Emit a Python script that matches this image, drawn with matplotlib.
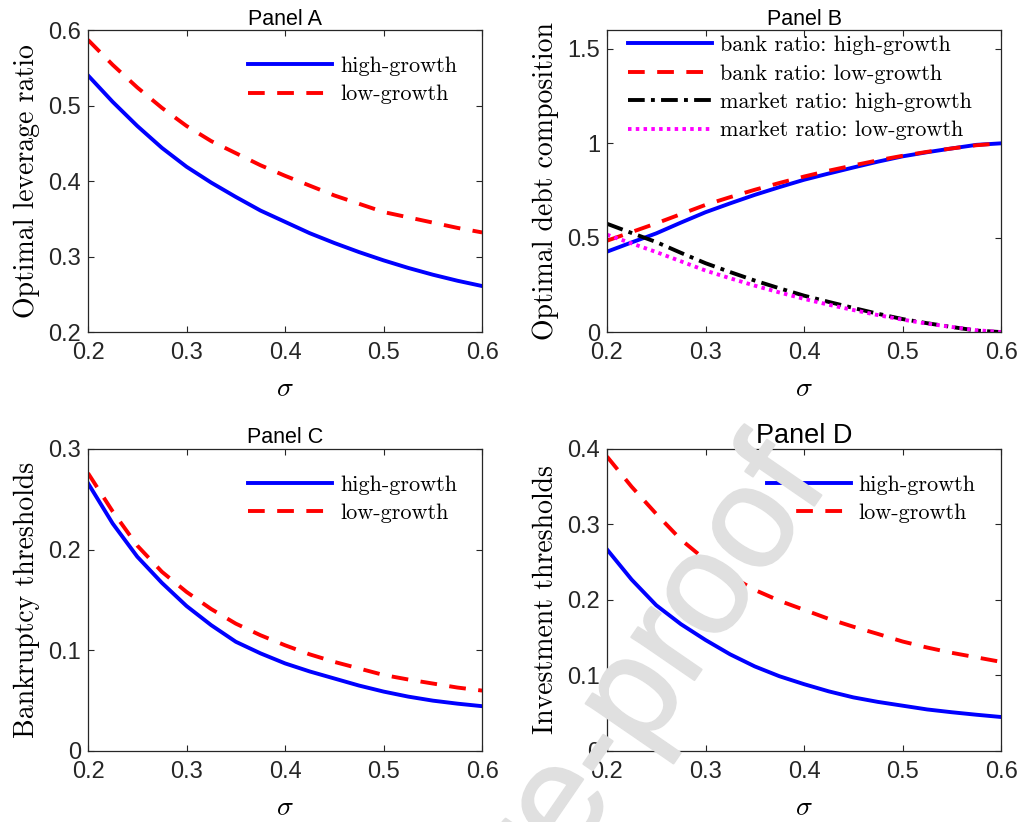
import matplotlib
matplotlib.use('Agg')
import matplotlib.pyplot as plt
import matplotlib.patheffects as pe

plt.rcParams['font.family'] = ['Liberation Sans', 'DejaVu Sans']
plt.rcParams['mathtext.fontset'] = 'cm'

sigma = [0.2, 0.225, 0.25, 0.275, 0.3, 0.325, 0.35, 0.375, 0.4,
         0.425, 0.45, 0.475, 0.5, 0.525, 0.55, 0.575, 0.6]

# Panel A - optimal leverage ratio
lev_high = [0.540, 0.505, 0.473, 0.444, 0.419, 0.398, 0.379, 0.361, 0.346,
            0.331, 0.318, 0.306, 0.295, 0.285, 0.276, 0.268, 0.261]
lev_low = [0.587, 0.554, 0.524, 0.497, 0.473, 0.453, 0.437, 0.421, 0.407,
           0.394, 0.381, 0.370, 0.359, 0.352, 0.345, 0.338, 0.332]

# Panel B - optimal debt composition
bank_high = [0.426, 0.475, 0.523, 0.580, 0.635, 0.682, 0.727, 0.768, 0.807,
             0.840, 0.872, 0.903, 0.931, 0.953, 0.973, 0.992, 1.000]
bank_low = [0.484, 0.530, 0.576, 0.625, 0.674, 0.715, 0.754, 0.790, 0.824,
            0.855, 0.883, 0.910, 0.934, 0.955, 0.973, 0.990, 1.000]
market_high = [0.574, 0.525, 0.477, 0.420, 0.365, 0.318, 0.273, 0.232, 0.193,
               0.160, 0.128, 0.097, 0.069, 0.047, 0.027, 0.008, 0.000]
market_low = [0.516, 0.470, 0.424, 0.375, 0.326, 0.285, 0.246, 0.210, 0.176,
              0.145, 0.117, 0.090, 0.066, 0.045, 0.027, 0.010, 0.000]

# Panel C - bankruptcy thresholds
bk_high = [0.266, 0.226, 0.193, 0.167, 0.144, 0.125, 0.1085, 0.097, 0.087,
           0.079, 0.072, 0.065, 0.059, 0.054, 0.050, 0.047, 0.0445]
bk_low = [0.276, 0.238, 0.204, 0.178, 0.158, 0.141, 0.1265, 0.115, 0.105,
          0.096, 0.0885, 0.082, 0.0755, 0.071, 0.067, 0.063, 0.060]

# Panel D - investment thresholds
inv_high = [0.267, 0.227, 0.193, 0.168, 0.147, 0.128, 0.112, 0.099, 0.0885,
            0.079, 0.071, 0.065, 0.060, 0.055, 0.0513, 0.048, 0.045]
inv_low = [0.390, 0.350, 0.314, 0.280, 0.253, 0.232, 0.2133, 0.199, 0.187,
           0.175, 0.1646, 0.155, 0.145, 0.137, 0.130, 0.124, 0.118]

grey = (0.15, 0.15, 0.15)
lw = 2.8
dash = (0, (4.3, 3.2))
cm_font = {'family': 'cmr10'}

fig = plt.figure(figsize=(10.21, 8.22), dpi=100)
ax_a = fig.add_axes([0.0862, 0.596, 0.386, 0.3674])
ax_b = fig.add_axes([0.5945, 0.596, 0.386, 0.3674])
ax_c = fig.add_axes([0.0862, 0.0864, 0.386, 0.3674])
ax_d = fig.add_axes([0.5945, 0.0864, 0.386, 0.3674])


def style(ax, ylim, yticks, ylabel, title, tsize=15.5):
    ax.set_xlim(0.2, 0.6)
    ax.set_ylim(*ylim)
    ax.set_xticks([0.2, 0.3, 0.4, 0.5, 0.6])
    ax.set_xticklabels(['0.2', '0.3', '0.4', '0.5', '0.6'])
    ax.set_yticks(yticks)
    ax.set_yticklabels([('%g' % t) for t in yticks])
    ax.tick_params(direction='in', length=4, width=0.8, colors=grey,
                   labelsize=17, top=True, right=True)
    ax.tick_params(axis='x', pad=7)
    ax.tick_params(axis='y', pad=5)
    for s in ax.spines.values():
        s.set_color(grey)
        s.set_linewidth(0.9)
    ax.set_xlabel(r'$\sigma$', fontsize=20, labelpad=9)
    ax.set_ylabel(ylabel, fontdict=cm_font, fontsize=20, labelpad=6)
    ax.set_title(title, fontsize=tsize, pad=4)


ax_a.plot(sigma, lev_high, color='blue', lw=lw, label='high-growth')
ax_a.plot(sigma, lev_low, color='red', lw=lw, ls=dash, label='low-growth')
style(ax_a, (0.2, 0.6), [0.2, 0.3, 0.4, 0.5, 0.6], 'Optimal leverage ratio', 'Panel A')

ax_b.plot(sigma, bank_high, color='blue', lw=lw, label='bank ratio: high-growth')
ax_b.plot(sigma, bank_low, color='red', lw=lw, ls=dash, label='bank ratio: low-growth')
ax_b.plot(sigma, market_high, color='black', lw=lw, ls=(0, (4.3, 1.6, 1.0, 1.6)),
          label='market ratio: high-growth')
ax_b.plot(sigma, market_low, color='magenta', lw=lw, ls=(0, (0.9, 1.1)),
          label='market ratio: low-growth')
style(ax_b, (0, 1.6), [0, 0.5, 1, 1.5], 'Optimal debt composition', 'Panel B')

ax_c.plot(sigma, bk_high, color='blue', lw=lw, label='high-growth')
ax_c.plot(sigma, bk_low, color='red', lw=lw, ls=dash, label='low-growth')
style(ax_c, (0, 0.3), [0, 0.1, 0.2, 0.3], 'Bankruptcy thresholds', 'Panel C')

ax_d.plot(sigma, inv_high, color='blue', lw=lw, label='high-growth')
ax_d.plot(sigma, inv_low, color='red', lw=lw, ls=dash, label='low-growth')
style(ax_d, (0, 0.4), [0, 0.1, 0.2, 0.3, 0.4], 'Investment thresholds', 'Panel D', tsize=19.5)

leg_kw = dict(frameon=False, loc='upper left', borderaxespad=0, borderpad=0,
              handlelength=3.8, handletextpad=0.35, labelspacing=0.4,
              prop={'family': 'cmr10', 'size': 16})
ax_a.legend(bbox_to_anchor=(0.406, 0.913), **leg_kw)
ax_b.legend(bbox_to_anchor=(0.053, 0.982), **leg_kw)
ax_c.legend(bbox_to_anchor=(0.406, 0.913), **leg_kw)
ax_d.legend(bbox_to_anchor=(0.405, 0.913), **leg_kw)

# watermark of the source document
wm_color = '#e0e0e0'
fig.text(0.8128, 0.4125, 'Journal Pre-proof', rotation=55.5, rotation_mode='anchor',
         ha='right', va='baseline', fontsize=104, color=wm_color, zorder=10,
         path_effects=[pe.withStroke(linewidth=1.5, foreground=wm_color)])

fig.savefig('out.png', dpi=100)
